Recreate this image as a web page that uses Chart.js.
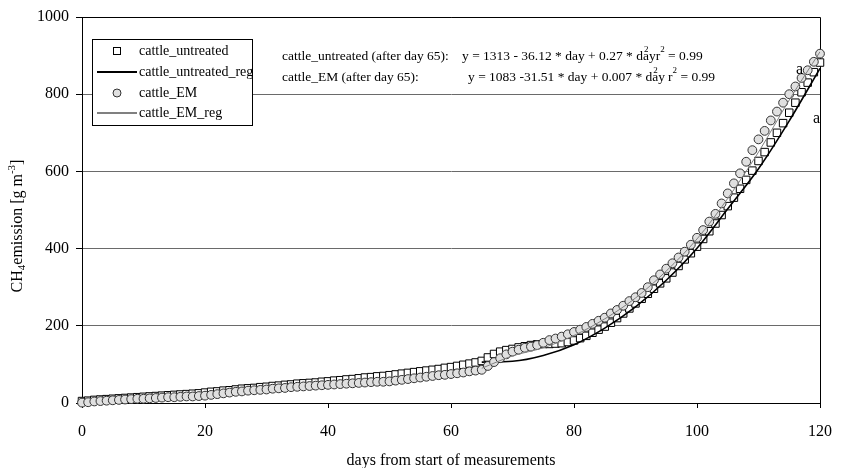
<!DOCTYPE html>
<html>
<head>
<meta charset="utf-8">
<script src="https://cdn.jsdelivr.net/npm/chart.js@4.4.0/dist/chart.umd.min.js"></script>
<style>
  html, body { margin: 0; padding: 0; background: #fff; }
  canvas { display: block; }
</style>
</head>
<body>
<canvas id="chart" width="846" height="468"></canvas>
<script>
// Values
const days = [
  0, 1, 2, 3, 4, 5, 6, 7, 8, 9, 10, 11, 12, 13, 14, 15, 16, 17, 18, 19,
  20, 21, 22, 23, 24, 25, 26, 27, 28, 29, 30, 31, 32, 33, 34, 35, 36, 37, 38, 39,
  40, 41, 42, 43, 44, 45, 46, 47, 48, 49, 50, 51, 52, 53, 54, 55, 56, 57, 58, 59,
  60, 61, 62, 63, 64, 65, 66, 67, 68, 69, 70, 71, 72, 73, 74, 75, 76, 77, 78, 79,
  80, 81, 82, 83, 84, 85, 86, 87, 88, 89, 90, 91, 92, 93, 94, 95, 96, 97, 98, 99,
  100, 101, 102, 103, 104, 105, 106, 107, 108, 109, 110, 111, 112, 113, 114, 115, 116, 117, 118, 119,
  120
];
const cattleUntreated = [
  5, 6, 8, 9, 10, 11, 12, 13, 14, 15, 16, 17, 18, 19, 20, 21, 22, 23, 24, 25,
  27, 29, 30, 32, 33, 35, 37, 38, 39, 41, 42, 44, 45, 47, 48, 50, 51, 52, 53, 55,
  56, 58, 59, 61, 62, 64, 66, 67, 69, 70, 72, 74, 76, 78, 80, 82, 84, 86, 88, 91,
  93, 96, 99, 102, 105, 109, 118, 127, 133, 137, 140, 144, 147, 150, 152, 153, 153, 154, 155, 158,
  162, 168, 174, 182, 190, 198, 208, 220, 232, 245, 258, 270, 283, 296, 310, 323, 338, 355, 372, 388,
  405, 425, 445, 465, 487, 510, 532, 555, 578, 602, 627, 650, 675, 700, 725, 752, 778, 805, 830, 857,
  882
];
const cattleEM = [
  1, 2, 4, 5, 6, 7, 8, 9, 10, 11, 11, 12, 13, 14, 15, 15, 16, 17, 17, 18,
  19, 21, 23, 25, 27, 29, 30, 32, 33, 34, 35, 37, 38, 39, 41, 42, 43, 44, 45, 46,
  47, 48, 49, 50, 51, 52, 53, 54, 55, 55, 56, 58, 60, 62, 64, 66, 68, 70, 72, 73,
  75, 77, 79, 82, 84, 86, 96, 106, 116, 126, 133, 138, 143, 146, 150, 156, 163, 167, 172, 178,
  184, 190, 197, 205, 213, 221, 232, 241, 252, 264, 274, 285, 300, 318, 333, 348, 362, 377, 392, 410,
  428, 448, 470, 490, 517, 543, 569, 595, 625, 655, 683, 705, 732, 755, 778, 800, 820, 842, 862, 884,
  905
];
// regression curves (after day 65)
const regDays = [65, 70, 75, 80, 85, 90, 95, 100, 105, 110, 115, 120];
const untreatedReg = [106, 108, 123, 151, 194, 249, 318, 401, 503, 607, 731, 867];
const emReg = [90, 122, 143, 175, 218, 272, 342, 425, 530, 650, 785, 910];

const xTicks = [0, 20, 40, 60, 80, 100, 120];
const yTicks = [0, 200, 400, 600, 800, 1000];

const SERIF = "'Liberation Serif', 'Times New Roman', serif";

function toPoints(xs, ys) {
  return xs.map((x, i) => ({ x: x, y: ys[i] }));
}

// draw a row of text pieces, each with its own size and vertical shift
function richWidth(ctx, parts) {
  let w = 0;
  parts.forEach(p => {
    ctx.font = p.size + 'px ' + SERIF;
    w += ctx.measureText(p.t).width;
  });
  return w;
}
function drawRich(ctx, x, y, parts) {
  parts.forEach(p => {
    ctx.font = p.size + 'px ' + SERIF;
    ctx.fillText(p.t, x, y + (p.dy || 0));
    x += ctx.measureText(p.t).width;
  });
  return x;
}

// equation: text ending in "day", a superscript 2 over the "a", then r² = 0.99
function drawEquation(ctx, x, y, label, eq, eqX, rGap) {
  ctx.font = '13.5px ' + SERIF;
  ctx.fillText(label, x, y);
  ctx.fillText(eq, eqX, y);
  let end = eqX + ctx.measureText(eq).width;
  const ay = ctx.measureText('ay').width;
  ctx.font = '9px ' + SERIF;
  ctx.fillText('2', end - ay + 1, y - 6);
  ctx.font = '13.5px ' + SERIF;
  end += rGap;
  ctx.fillText('r', end, y);
  end += ctx.measureText('r').width;
  ctx.font = '9px ' + SERIF;
  ctx.fillText('2', end, y - 6);
  end += ctx.measureText('2').width;
  ctx.font = '13.5px ' + SERIF;
  ctx.fillText(' = 0.99', end, y);
}

const extras = {
  id: 'extras',
  beforeDatasetsDraw(chart) {
    // top and right edge of the plot frame
    const { ctx, chartArea: a } = chart;
    ctx.save();
    ctx.strokeStyle = '#000';
    ctx.lineWidth = 1;
    ctx.beginPath();
    ctx.moveTo(a.left, Math.round(a.top) + 0.5);
    ctx.lineTo(Math.round(a.right) + 0.5, Math.round(a.top) + 0.5);
    ctx.lineTo(Math.round(a.right) + 0.5, a.bottom);
    ctx.stroke();
    ctx.restore();
  },
  afterDraw(chart) {
    const { ctx, chartArea: a } = chart;
    ctx.save();
    ctx.fillStyle = '#000';
    ctx.textBaseline = 'middle';
    ctx.textAlign = 'left';

    // y axis title, rotated
    const yTitle = [
      { t: 'CH', size: 16 },
      { t: '4', size: 11, dy: 4 },
      { t: 'emission [g m', size: 16 },
      { t: '-3', size: 11, dy: -6 },
      { t: ']', size: 16 }
    ];
    ctx.save();
    ctx.translate(18, 226);
    ctx.rotate(-Math.PI / 2);
    drawRich(ctx, -richWidth(ctx, yTitle) / 2, 0, yTitle);
    ctx.restore();

    // x axis title
    ctx.textAlign = 'center';
    ctx.font = '16px ' + SERIF;
    ctx.fillText('days from start of measurements', (a.left + a.right) / 2, 461);
    ctx.textAlign = 'left';

    // regression equations
    drawEquation(ctx, 282, 56, 'cattle_untreated (after day 65):',
      'y = 1313 - 36.12 * day + 0.27 * day', 462, 0);
    drawEquation(ctx, 282, 77, 'cattle_EM (after day 65):',
      'y = 1083 -31.51 * day + 0.007 * day', 468, 3);

    // significance letters
    ctx.font = '16px ' + SERIF;
    ctx.fillText('a', 796, 70);
    ctx.fillText('a', 813, 119);

    // legend box
    ctx.fillStyle = '#fff';
    ctx.fillRect(92, 39, 160, 86);
    ctx.strokeStyle = '#000';
    ctx.lineWidth = 1;
    ctx.strokeRect(92.5, 39.5, 160, 86);

    ctx.strokeRect(113.5, 47.5, 7, 7);
    ctx.lineWidth = 2;
    ctx.beginPath();
    ctx.moveTo(97, 72);
    ctx.lineTo(137, 72);
    ctx.stroke();
    ctx.lineWidth = 1;
    ctx.beginPath();
    ctx.arc(117, 93, 4, 0, Math.PI * 2);
    ctx.fillStyle = '#e0e0e0';
    ctx.fill();
    ctx.strokeStyle = '#333';
    ctx.stroke();
    ctx.strokeStyle = '#808080';
    ctx.lineWidth = 2;
    ctx.beginPath();
    ctx.moveTo(97, 113);
    ctx.lineTo(137, 113);
    ctx.stroke();

    ctx.fillStyle = '#000';
    ctx.font = '14px ' + SERIF;
    ctx.fillText('cattle_untreated', 139, 51);
    ctx.fillText('cattle_untreated_reg', 139, 72);
    ctx.fillText('cattle_EM', 139, 93);
    ctx.fillText('cattle_EM_reg', 139, 113);
    ctx.restore();
  }
};

const ctx = document.getElementById('chart').getContext('2d');
new Chart(ctx, {
  type: 'scatter',
  data: {
    datasets: [
      {
        label: 'cattle_untreated',
        data: toPoints(days, cattleUntreated),
        pointStyle: 'rect',
        pointRadius: 5.3,
        backgroundColor: '#fff',
        borderColor: '#000',
        borderWidth: 1,
        clip: false,
        order: 4
      },
      {
        label: 'cattle_untreated_reg',
        data: toPoints(regDays, untreatedReg),
        showLine: true,
        cubicInterpolationMode: 'monotone',
        pointRadius: 0,
        borderColor: '#000',
        borderWidth: 1.6,
        order: 3
      },
      {
        label: 'cattle_EM',
        data: toPoints(days, cattleEM),
        pointStyle: 'circle',
        pointRadius: 4.4,
        backgroundColor: '#e0e0e0',
        borderColor: '#333',
        borderWidth: 1,
        clip: false,
        order: 2
      },
      {
        label: 'cattle_EM_reg',
        data: toPoints(regDays, emReg),
        showLine: true,
        cubicInterpolationMode: 'monotone',
        pointRadius: 0,
        borderColor: '#808080',
        borderWidth: 1,
        order: 1
      }
    ]
  },
  options: {
    responsive: false,
    animation: false,
    devicePixelRatio: 1,
    layout: { padding: { left: 0, top: 17, right: 14, bottom: 0 } },
    plugins: {
      legend: { display: false },
      tooltip: { enabled: false }
    },
    scales: {
      x: {
        type: 'linear',
        min: 0,
        max: 120,
        afterBuildTicks: s => { s.ticks = xTicks.map(v => ({ value: v })); },
        afterFit: s => { s.height = 65; },
        ticks: {
          color: '#000',
          font: { family: SERIF, size: 16 },
          padding: 14,
          maxRotation: 0,
          callback: v => String(v)
        },
        grid: {
          drawOnChartArea: false,
          drawTicks: true,
          tickLength: 5,
          tickColor: '#000'
        },
        border: { display: true, color: '#000', width: 1 }
      },
      y: {
        min: 0,
        max: 1000,
        afterBuildTicks: s => { s.ticks = yTicks.map(v => ({ value: v })); },
        afterFit: s => { s.width = 82; },
        ticks: {
          color: '#000',
          font: { family: SERIF, size: 16 },
          padding: 7,
          callback: v => String(v)
        },
        grid: {
          color: '#6a6a6a',
          drawTicks: true,
          tickLength: 6,
          tickColor: '#000'
        },
        border: { display: true, color: '#000', width: 1 }
      }
    }
  },
  plugins: [extras]
});
</script>
</body>
</html>
